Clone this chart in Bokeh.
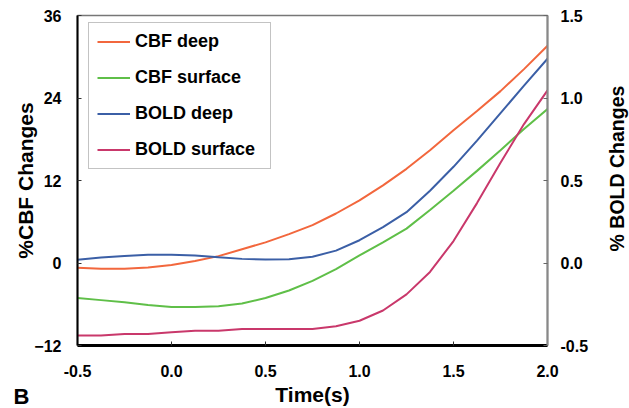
import math
from bokeh.plotting import figure
from bokeh.models import (Range1d, LinearAxis, FixedTicker, PrintfTickFormatter,
                          Label, Legend, LegendItem)
from bokeh.embed import file_html
from bokeh.resources import INLINE

# ---- data ----
time = [-0.5, -0.375, -0.25, -0.125, 0.0, 0.125, 0.25, 0.375, 0.5, 0.625, 0.75,
        0.875, 1.0, 1.125, 1.25, 1.375, 1.5, 1.625, 1.75, 1.875, 2.0]

cbf_deep = [-0.7, -0.85, -0.85, -0.65, -0.3, 0.3, 1.0, 2.0, 3.0, 4.2, 5.5,
            7.2, 9.1, 11.3, 13.7, 16.4, 19.3, 22.1, 25.0, 28.2, 31.6]

cbf_surface = [-5.1, -5.4, -5.7, -6.1, -6.4, -6.4, -6.3, -5.9, -5.1, -4.0, -2.6,
               -0.9, 1.1, 3.0, 5.0, 7.7, 10.5, 13.4, 16.4, 19.5, 22.4]

bold_deep = [0.02, 0.033, 0.042, 0.05, 0.05, 0.046, 0.035, 0.025, 0.021, 0.023, 0.038,
             0.075, 0.138, 0.217, 0.308, 0.438, 0.583, 0.742, 0.908, 1.075, 1.238]

bold_surface = [-0.44, -0.44, -0.43, -0.43, -0.42, -0.41, -0.41, -0.40, -0.40, -0.40, -0.40,
                -0.383, -0.35, -0.288, -0.19, -0.054, 0.133, 0.363, 0.608, 0.842, 1.046]

x_ticks = [-0.5, 0.0, 0.5, 1.0, 1.5, 2.0]
cbf_ticks = [-12, 0, 12, 24, 36]
bold_ticks = [-0.5, 0.0, 0.5, 1.0, 1.5]

series_names = ["CBF deep", "CBF surface", "BOLD deep", "BOLD surface"]
colors = ["#f2673d", "#5fbf48", "#3b5fa6", "#c9386b"]

FONT = "Liberation Sans"

p = figure(width=629, height=408, output_backend="svg", toolbar_location=None,
           x_range=Range1d(-0.5, 2.0), y_range=Range1d(-12, 36),
           min_border_left=77, min_border_right=82, min_border_top=15,
           min_border_bottom=63)
p.extra_y_ranges = {"bold": Range1d(-0.5, 1.5)}

p.xgrid.visible = False
p.ygrid.visible = False
p.outline_line_color = "#777777"
p.outline_line_width = 1.5
p.background_fill_color = "white"
p.border_fill_color = "white"

r1 = p.line(time, cbf_deep, line_color=colors[0], line_width=2)
r2 = p.line(time, cbf_surface, line_color=colors[1], line_width=2)
r3 = p.line(time, bold_deep, line_color=colors[2], line_width=2, y_range_name="bold")
r4 = p.line(time, bold_surface, line_color=colors[3], line_width=2, y_range_name="bold")

# left axis
ly = p.yaxis[0]
ly.ticker = FixedTicker(ticks=cbf_ticks)
ly.axis_line_color = "black"
ly.axis_line_width = 2
ly.major_tick_in = 4
ly.major_tick_out = 0
ly.major_tick_line_color = "#333333"
ly.minor_tick_line_color = None
ly.major_label_standoff = 16
ly.major_label_text_font = FONT
ly.major_label_text_font_style = "bold"
ly.major_label_text_font_size = "16px"
ly.major_label_text_color = "black"
ly.axis_label = "%CBF Changes"
ly.axis_label_text_font = FONT
ly.axis_label_text_font_style = "bold"
ly.axis_label_text_font_size = "21px"
ly.axis_label_text_color = "black"
ly.axis_label_standoff = -6

# bottom axis
bx = p.xaxis[0]
bx.ticker = FixedTicker(ticks=x_ticks)
bx.formatter = PrintfTickFormatter(format="%.1f")
bx.axis_line_color = "black"
bx.axis_line_width = 3
bx.major_tick_in = 4
bx.major_tick_out = 0
bx.major_tick_line_color = "#333333"
bx.minor_tick_line_color = None
bx.major_label_standoff = 19
bx.major_label_text_font = FONT
bx.major_label_text_font_style = "bold"
bx.major_label_text_font_size = "16px"
bx.major_label_text_color = "black"
bx.axis_label = "Time(s)"
bx.axis_label_text_font = FONT
bx.axis_label_text_font_style = "bold"
bx.axis_label_text_font_size = "21px"
bx.axis_label_text_color = "black"
bx.axis_label_standoff = 3

# right axis
ry = LinearAxis(y_range_name="bold", ticker=FixedTicker(ticks=bold_ticks),
                formatter=PrintfTickFormatter(format="%.1f"))
ry.axis_line_color = "#888888"
ry.axis_line_width = 2
ry.major_tick_in = 4
ry.major_tick_out = 0
ry.major_tick_line_color = "#666666"
ry.minor_tick_line_color = None
ry.major_label_standoff = 13
ry.major_label_text_font = FONT
ry.major_label_text_font_style = "bold"
ry.major_label_text_font_size = "16px"
ry.major_label_text_color = "black"
p.add_layout(ry, "right")

# right-hand title, reading bottom to top (side panel: not clipped to frame)
p.add_layout(Label(x=25, y=177, x_units="screen", y_units="screen",
                   text="% BOLD Changes", angle=math.pi / 2,
                   text_align="center", text_baseline="middle",
                   text_font=FONT, text_font_style="bold",
                   text_font_size="19.5px", text_color="black"), "right")

# panel letter (placed in the roomy right panel, drawn at the far left)
p.add_layout(Label(x=-600, y=-51, x_units="screen", y_units="screen",
                   text="B", text_align="left", text_baseline="alphabetic",
                   text_font=FONT, text_font_style="bold",
                   text_font_size="22px", text_color="black"), "right")

legend = Legend(items=[LegendItem(label=n, renderers=[r]) for n, r in
                       zip(series_names, [r1, r2, r3, r4])],
                location=(11, 176))
legend.padding = 8
legend.spacing = 15
legend.label_height = 21
legend.glyph_height = 21
legend.glyph_width = 33
legend.label_standoff = 5
legend.label_width = 127
legend.margin = 0
legend.border_line_color = "#888888"
legend.border_line_width = 1
legend.background_fill_color = "white"
legend.background_fill_alpha = 1.0
legend.label_text_font = FONT
legend.label_text_font_style = "bold"
legend.label_text_font_size = "18px"
legend.label_text_color = "black"
p.add_layout(legend)

open("out.html", "w").write(file_html(p, INLINE))
